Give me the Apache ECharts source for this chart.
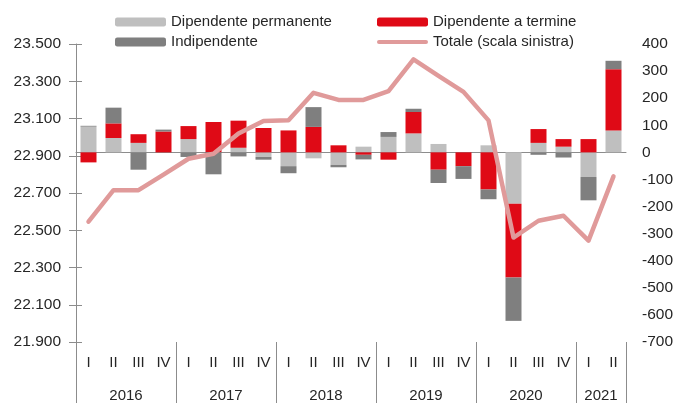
<!DOCTYPE html>
<html>
<head>
<meta charset="utf-8">
<script src="https://cdn.jsdelivr.net/npm/echarts@6/dist/echarts.min.js"></script>
<style>
  html, body { margin: 0; padding: 0; background: #fff; }
  #chart { width: 673px; height: 403px; }
</style>
</head>
<body>
<div id="chart"></div>
<script>
(function () {
    "use strict";

    // ---- data ----
    const quarters = ["I", "II", "III", "IV", "I", "II", "III", "IV", "I", "II", "III", "IV",
        "I", "II", "III", "IV", "I", "II", "III", "IV", "I", "II"];
    const years = ["2016", "2017", "2018", "2019", "2020", "2021"];
    const yearCenters = [2, 6, 10, 14, 18, 21];
    const yearBounds = [0, 4, 8, 12, 16, 20, 22];

    const permanente = [95, 53, 35, 0, 49, 0, 17, -17, -51, -22, -46, 21, 57, 70, 31, 0, 26, -190, 35, 21, -91, 81];
    const termine = [-37, 54, 32, 77, 48, 112, 100, 90, 81, 94, 26, -9, -27, 79, -64, -51, -137, -272, 51, 28, 49, 226];
    const indipendente = [3, 58, -64, 7, -17, -81, -15, -10, -26, 73, -9, -17, 18, 12, -49, -47, -36, -160, -9, -19, -86, 31];
    const totale = [22546, 22715, 22715, 22799, 22884, 22911, 23019, 23087, 23090, 23238, 23200, 23200,
        23247, 23417, 23329, 23243, 23090, 22461, 22551, 22578, 22444, 22789];

    const FONT = "'Liberation Sans', Arial, sans-serif";
    const TXT = "#262626";
    const AX = "#8c8c8c";
    const C = { perm: "#bfbfbf", term: "#df0a16", indip: "#7f7f7f", tot: "#e09a9a" };

    const fmtThousands = v => String(v).replace(/\B(?=(\d{3})+(?!\d))/g, ".");

    const chart = echarts.init(document.getElementById("chart"), null, { renderer: "canvas" });

    const legendBase = {
        orient: "vertical", top: 13, padding: 0, itemWidth: 51, itemHeight: 9, itemGap: 2,
        selectedMode: false,
        textStyle: { fontFamily: FONT, fontSize: 15, color: TXT, lineHeight: 18 }
    };

    chart.setOption({
        animation: false,
        textStyle: { fontFamily: FONT },
        legend: [
            Object.assign({}, legendBase, { left: 115, data: ["Dipendente permanente", "Indipendente"] }),
            Object.assign({}, legendBase, {
                left: 377,
                data: ["Dipendente a termine",
                    { name: "Totale (scala sinistra)", icon: "path://M2,0 H49 A2,2 0 0 1 49,4 H2 A2,2 0 0 1 2,0 Z" }]
            })
        ],
        grid: { left: 76, right: 47, top: 44, bottom: 61, outerBoundsMode: "none", containLabel: false },
        xAxis: [
            {
                type: "category", data: quarters, position: "bottom",
                axisLine: { lineStyle: { color: AX } },
                axisTick: { interval: 0, length: 31, lineStyle: { color: AX } },
                axisLabel: { interval: 0, margin: 13, fontSize: 15, color: TXT, fontFamily: FONT }
            },
            {
                type: "value", min: 0, max: 22, interval: 1, position: "bottom",
                axisLine: { show: false },
                splitLine: { show: false },
                axisTick: { show: true, customValues: yearBounds, length: 61, lineStyle: { color: AX } },
                axisLabel: {
                    customValues: yearCenters, margin: 46, fontSize: 15, color: TXT, fontFamily: FONT,
                    formatter: v => years[yearCenters.indexOf(v)] || ""
                }
            }
        ],
        yAxis: [
            {
                type: "value", position: "left", min: 21900, max: 23500, interval: 200,
                axisLine: { show: true, lineStyle: { color: AX } },
                axisTick: { show: true, length: 7, lineStyle: { color: AX } },
                splitLine: { show: false },
                axisLabel: { margin: 15, fontSize: 15.5, color: TXT, fontFamily: FONT, formatter: fmtThousands }
            },
            {
                type: "value", position: "right", min: -700, max: 400, interval: 100,
                axisLine: { show: false }, axisTick: { show: false }, splitLine: { show: false },
                axisLabel: { margin: 16, fontSize: 15.5, color: TXT, fontFamily: FONT }
            },
            {
                // inner half of the crossing ticks on the left axis
                type: "value", position: "left", min: 21900, max: 23500, interval: 200,
                axisLine: { show: false },
                axisTick: { show: true, inside: true, length: 6, lineStyle: { color: AX } },
                axisLabel: { show: false }, splitLine: { show: false }
            }
        ],
        series: [
            { name: "Dipendente permanente", type: "bar", stack: "v", yAxisIndex: 1, barWidth: 16, itemStyle: { color: C.perm }, data: permanente },
            { name: "Dipendente a termine", type: "bar", stack: "v", yAxisIndex: 1, barWidth: 16, itemStyle: { color: C.term }, data: termine },
            { name: "Indipendente", type: "bar", stack: "v", yAxisIndex: 1, barWidth: 16, itemStyle: { color: C.indip }, data: indipendente },
            {
                name: "Totale (scala sinistra)", type: "line", yAxisIndex: 0, data: totale,
                showSymbol: false, symbol: "none", z: 5,
                itemStyle: { color: C.tot },
                lineStyle: { color: C.tot, width: 4.5, cap: "round", join: "round" }
            }
        ]
    });

    window.addEventListener("resize", () => chart.resize());
})();
</script>
</body>
</html>
